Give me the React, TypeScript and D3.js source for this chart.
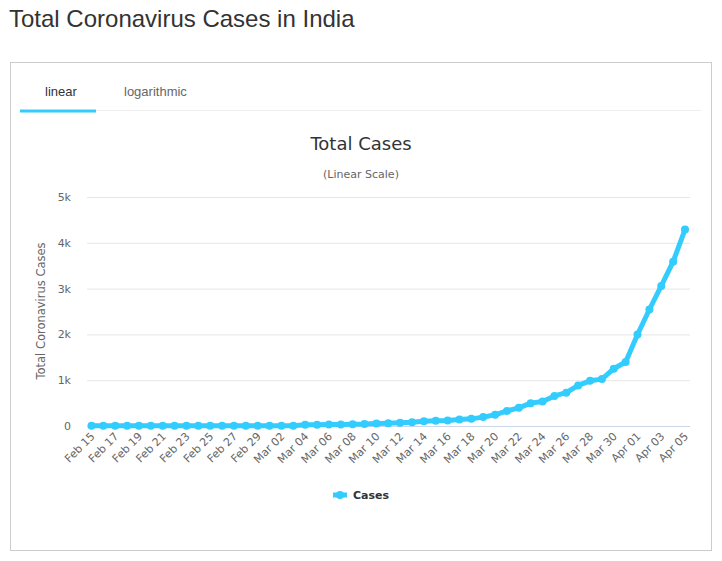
import React from "react";
import * as d3 from "d3";

const dates = [
  "Feb 15","Feb 16","Feb 17","Feb 18","Feb 19","Feb 20","Feb 21","Feb 22","Feb 23","Feb 24","Feb 25","Feb 26","Feb 27","Feb 28","Feb 29",
  "Mar 01","Mar 02","Mar 03","Mar 04","Mar 05","Mar 06","Mar 07","Mar 08","Mar 09","Mar 10","Mar 11","Mar 12","Mar 13","Mar 14","Mar 15",
  "Mar 16","Mar 17","Mar 18","Mar 19","Mar 20","Mar 21","Mar 22","Mar 23","Mar 24","Mar 25","Mar 26","Mar 27","Mar 28","Mar 29","Mar 30","Mar 31",
  "Apr 01","Apr 02","Apr 03","Apr 04","Apr 05"
];
const cases = [
  3,3,3,3,3,3,3,3,3,3,3,3,3,3,3,
  3,5,6,28,30,31,34,39,43,56,62,73,82,102,113,
  119,142,156,194,244,330,396,499,536,657,727,887,987,1024,1251,1397,
  1998,2543,3059,3588,4289
];
const yTicks = [0, 1000, 2000, 3000, 4000, 5000];
const yTickLabels = ["0", "1k", "2k", "3k", "4k", "5k"];

const FONT = "'Lucida Grande', 'Lucida Sans Unicode', 'DejaVu Sans', sans-serif";

export default function App() {
  const W = 722, H = 561;
  const x = d3.scalePoint<string>().domain(dates).range([91.5, 685]);
  const y = d3.scaleLinear().domain([0, 5000]).range([426, 197]);
  const line = d3.line<number>().x((_, i) => x(dates[i])!).y((d) => y(d));
  const color = "#33ccff";
  return (
    <svg width={W} height={H} style={{ position: "absolute", left: 0, top: 0 }}>
      <rect x={0} y={0} width={W} height={H} fill="#fff" />
      <text x={9} y={27} fontFamily="'Liberation Sans', Arial, sans-serif" fontSize={24} fill="#333">
        Total Coronavirus Cases in India
      </text>
      <rect x={10.5} y={62.5} width={701} height={488} fill="none" stroke="#ccc" />
      <line x1={20} x2={701} y1={110.5} y2={110.5} stroke="#eee" />
      <line x1={20} x2={96} y1={111} y2={111} stroke={color} strokeWidth={3} />
      <text x={45} y={96} fontFamily="'Liberation Sans', Arial, sans-serif" fontSize={13} fill="#333">linear</text>
      <text x={124} y={96} fontFamily="'Liberation Sans', Arial, sans-serif" fontSize={13} fill="#666">logarithmic</text>

      <text x={361} y={150} textAnchor="middle" fontFamily={FONT} fontSize={18} fill="#333">Total Cases</text>
      <text x={361} y={178} textAnchor="middle" fontFamily={FONT} fontSize={11} fill="#666">(Linear Scale)</text>

      {yTicks.map((t, i) => (
        <g key={t}>
          {t > 0 && <line x1={87} x2={690} y1={y(t) + 0.5} y2={y(t) + 0.5} stroke="#e6e6e6" />}
          <text x={71} y={y(t) + 4} textAnchor="end" fontFamily={FONT} fontSize={11} fill="#666">{yTickLabels[i]}</text>
        </g>
      ))}
      <line x1={87} x2={690} y1={426.5} y2={426.5} stroke="#ccd6eb" />
      <text transform={`translate(45,311) rotate(-90)`} textAnchor="middle" fontFamily={FONT} fontSize={11.5} fill="#666">
        Total Coronavirus Cases
      </text>

      {dates.map((d, i) =>
        i % 2 === 0 ? (
          <text key={d} transform={`translate(${x(d)! + 4},${437}) rotate(-45)`} textAnchor="end" fontFamily={FONT} fontSize={11} fill="#666">
            {d}
          </text>
        ) : null
      )}

      <path d={line(cases)!} fill="none" stroke={color} strokeWidth={5} strokeLinejoin="round" strokeLinecap="round" />
      {cases.map((c, i) => (
        <circle key={i} cx={x(dates[i])!} cy={y(c)} r={4} fill={color} />
      ))}

      <line x1={333} x2={347} y1={495} y2={495} stroke={color} strokeWidth={5} />
      <circle cx={340} cy={495} r={4} fill={color} />
      <text x={353} y={499} fontFamily={FONT} fontSize={11} fontWeight="bold" fill="#333">Cases</text>
    </svg>
  );
}
